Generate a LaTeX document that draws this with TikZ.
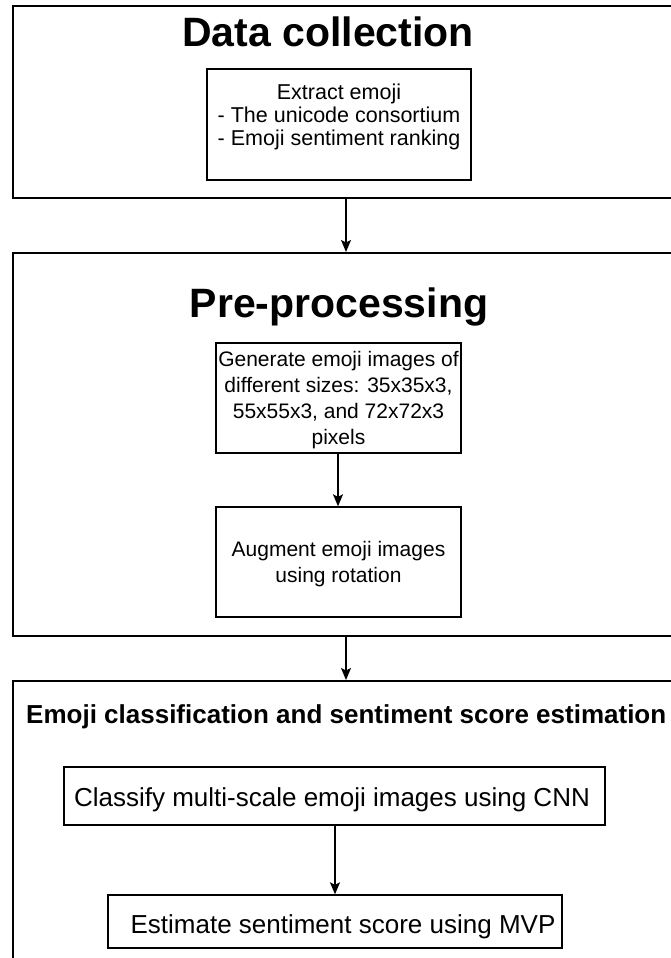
\documentclass[tikz,border=0pt]{standalone}
\usepackage{fontspec}
\setmainfont{Liberation Sans}
\usetikzlibrary{arrows.meta}
\begin{document}
\begin{tikzpicture}[x=1pt,y=1pt,
  outer/.style={draw, line width=2pt, inner sep=0pt, anchor=north west},
  inbox/.style={draw, line width=1.4pt, inner sep=0pt},
  arr/.style={line width=1.4pt, -{Stealth[length=12pt,width=10pt,inset=2.5pt]}},
  bigttl/.style={font=\fontsize{41}{44}\selectfont\bfseries, anchor=base, inner sep=0pt},
  txt/.style={align=center, inner sep=0pt}]
\useasboundingbox (0,0) rectangle (671,-958);
\clip (0,0) rectangle (671,-958);
% axes for connectors
\coordinate (xa) at (346,0);
\coordinate (xb) at (338,0);
\coordinate (xc) at (335,0);
% Data collection
\node[outer, minimum width=720pt, minimum height=192pt] (dc) at (12,-5) {};
\node[bigttl] (dctitle) at (328,-47) {Data collection};
\node[inbox, minimum width=264pt, minimum height=111pt] (ext) at (339,-124.5) {};
\node[txt, font=\fontsize{21.5}{23}\selectfont] (exttext) at (339,-117)
  {Extract emoji\\- The unicode consortium\\- Emoji sentiment ranking};
% Pre-processing
\node[outer, minimum width=720pt, minimum height=383pt] (pp) at (12,-252) {};
\node[bigttl] (pptitle) at (339,-317) {Pre-processing};
\node[inbox, minimum width=245pt, minimum height=110pt] (gen) at (338.5,-398) {};
\node[txt, font=\fontsize{21}{26}\selectfont] (gentext) at (338.5,-400.5)
  {Generate emoji images of\\different sizes: 35x35x3,\\55x55x3, and 72x72x3\\pixels};
\node[inbox, minimum width=245pt, minimum height=110pt] (aug) at (338.5,-562) {};
\node[txt, font=\fontsize{21}{26}\selectfont] (augtext) at (338.5,-564)
  {Augment emoji images\\using rotation};
% Emoji classification
\node[outer, minimum width=720pt, minimum height=330pt] (ec) at (12,-680) {};
\node[font=\fontsize{26}{30}\selectfont\bfseries, anchor=base west, inner sep=0pt] (ectitle) at (26,-723)
  {Emoji classification and sentiment score estimation};
\node[inbox, minimum width=541pt, minimum height=58pt] (cls) at (334.5,-796) {};
\node[txt, font=\fontsize{26}{30}\selectfont] (clstext) at (332,-800)
  {Classify multi-scale emoji images using CNN};
\node[inbox, minimum width=454pt, minimum height=53pt] (est) at (335,-921.5) {};
\node[txt, font=\fontsize{26}{30}\selectfont] (esttext) at (343,-926.5)
  {Estimate sentiment score using MVP};
% connectors
\draw[arr] (dc.south -| xa) -- (pp.north -| xa);
\draw[arr] (gen.south -| xb) -- (aug.north -| xb);
\draw[arr] (pp.south -| xa) -- (ec.north -| xa);
\draw[arr] (cls.south -| xc) -- (est.north -| xc);
\end{tikzpicture}
\end{document}
